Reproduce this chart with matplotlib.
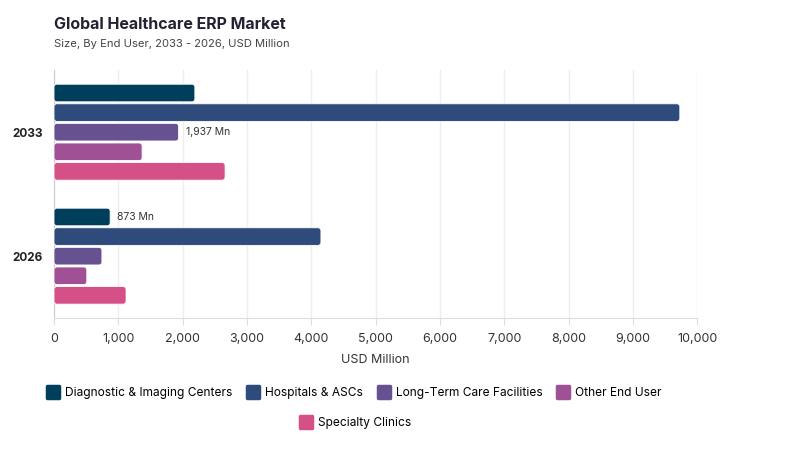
import numpy as np
import matplotlib.pyplot as plt
from matplotlib.lines import Line2D
from matplotlib.markers import MarkerStyle
from matplotlib.patches import FancyBboxPatch

plt.rcParams['font.family'] = ['Inter', 'DejaVu Sans']

# Data
years = ['2033', '2026']
segments = ['Diagnostic & Imaging Centers', 'Hospitals & ASCs',
            'Long-Term Care Facilities', 'Other End User', 'Specialty Clinics']
diagnostic = [2190, 873]
hospitals = [9730, 4150]
long_term = [1937, 745]
other = [1370, 510]
specialty = [2660, 1120]
colors = ['#003f5c', '#2f4b7c', '#665191', '#a05195', '#d45087']

series = [diagnostic, hospitals, long_term, other, specialty]

fig = plt.figure(figsize=(8, 4.5), dpi=100)
ax = fig.add_axes([0.0675, 0.293, 0.804, 0.551])
ax.set_xlim(0, 10000)
ax.set_ylim(1.5, -0.5)

y = np.arange(len(years))
step = 0.158
height = 0.142
# ratio of y data units per x data unit on screen, for rounded corners
aspect = (2.0 / 248) / (10000 / 643)
for i, (vals, c) in enumerate(zip(series, colors)):
    offs = (i - 2) * step
    bars = ax.barh(y + offs, vals, height=height, color=c, label=segments[i],
                   zorder=3)
    for b in bars:
        bx, by = b.get_x(), b.get_y()
        bw, bh = b.get_width(), b.get_height()
        b.set_visible(False)
        ax.add_patch(FancyBboxPatch((bx, by), bw, bh,
                                    boxstyle='round,pad=0,rounding_size=45',
                                    mutation_aspect=aspect, facecolor=c,
                                    edgecolor='white', linewidth=0.6,
                                    zorder=3))

# value annotations
ax.text(long_term[0] + 110, y[0], '1,937 Mn', va='center',
        ha='left', fontsize=7.5, color='#333333')
ax.text(diagnostic[1] + 110, y[1] - 2 * step, '873 Mn', va='center',
        ha='left', fontsize=7.5, color='#333333')

ax.set_yticks(y)
ax.set_yticklabels(years, fontsize=8.5, fontweight='bold', color='#222222')
ax.set_xticks(np.arange(0, 10001, 1000))
ax.set_xticklabels([f'{v:,}' for v in range(0, 10001, 1000)],
                   fontsize=9, color='#333333')
ax.tick_params(axis='y', length=0, pad=8)
ax.tick_params(axis='x', length=5, color='#dddddd', pad=6)
ax.set_xlabel('USD Million', fontsize=9, color='#333333', labelpad=6)

ax.grid(axis='x', color='#eeeeee', linewidth=1, zorder=0)
for s in ['top', 'right']:
    ax.spines[s].set_visible(False)
ax.spines['left'].set_color('#cccccc')
ax.spines['bottom'].set_color('#dddddd')

fig.text(0.068, 0.935, 'Global Healthcare ERP Market', fontsize=11.5,
         fontweight='bold', color='#222233')
fig.text(0.068, 0.896, 'Size, By End User, 2033 - 2026, USD Million',
         fontsize=8.1, color='#444444')

mk = MarkerStyle('s', joinstyle='round')
handles = [Line2D([0], [0], marker=mk, linestyle='', markersize=8,
                  markeredgewidth=2.5, markerfacecolor=c, markeredgecolor=c)
           for c in colors]
leg1 = fig.legend(handles[:4], segments[:4], loc='center', ncol=4,
                  bbox_to_anchor=(0.443, 0.126), frameon=False, fontsize=8.6,
                  handletextpad=0.5, columnspacing=1.25, handlelength=1.0)
leg2 = fig.legend(handles[4:], segments[4:], loc='center', ncol=1,
                  bbox_to_anchor=(0.445, 0.06), frameon=False, fontsize=8.6,
                  handletextpad=0.5, handlelength=1.0)

fig.savefig('out.png', dpi=100)
